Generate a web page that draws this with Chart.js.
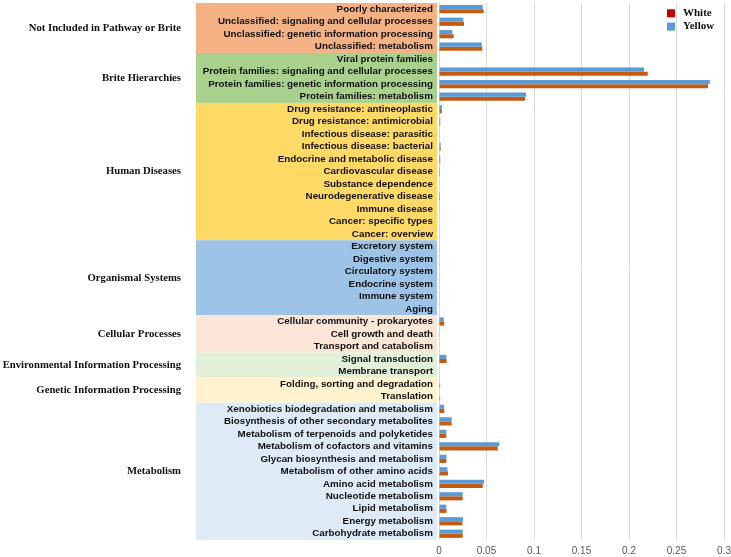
<!DOCTYPE html>
<html lang="en">
<head>
<meta charset="UTF-8">
<script src="https://cdn.jsdelivr.net/npm/chart.js@4"></script>
<title>KEGG pathway classification</title>
<style>
  body { margin: 0; background: #fff; }
  #wrap { width: 731px; height: 557px; position: relative; }
</style>
</head>
<body>
<div id="wrap"><canvas id="myChart"></canvas></div>
<script>
const categories = [
  'Poorly characterized',
  'Unclassified: signaling and cellular processes',
  'Unclassified: genetic information processing',
  'Unclassified: metabolism',
  'Viral protein families',
  'Protein families: signaling and cellular processes',
  'Protein families: genetic information processing',
  'Protein families: metabolism',
  'Drug resistance: antineoplastic',
  'Drug resistance: antimicrobial',
  'Infectious disease: parasitic',
  'Infectious disease: bacterial',
  'Endocrine and metabolic disease',
  'Cardiovascular disease',
  'Substance dependence',
  'Neurodegenerative disease',
  'Immune disease',
  'Cancer: specific types',
  'Cancer: overview',
  'Excretory system',
  'Digestive system',
  'Circulatory system',
  'Endocrine system',
  'Immune system',
  'Aging',
  'Cellular community - prokaryotes',
  'Cell growth and death',
  'Transport and catabolism',
  'Signal transduction',
  'Membrane transport',
  'Folding, sorting and degradation',
  'Translation',
  'Xenobiotics biodegradation and metabolism',
  'Biosynthesis of other secondary metabolites',
  'Metabolism of terpenoids and polyketides',
  'Metabolism of cofactors and vitamins',
  'Glycan biosynthesis and metabolism',
  'Metabolism of other amino acids',
  'Amino acid metabolism',
  'Nucleotide metabolism',
  'Lipid metabolism',
  'Energy metabolism',
  'Carbohydrate metabolism'
];

const yellowValues = [
  0.046, 0.0256, 0.014, 0.045,
  0, 0.2158, 0.285, 0.0916,
  0.003, 0.0013, 0.0006, 0.0018, 0.0013, 0.001, 0, 0.001, 0.0006, 0, 0.0005,
  0, 0.0005, 0, 0.0005, 0, 0,
  0.005, 0.0005, 0.0005,
  0.0077, 0,
  0.0007, 0.0005,
  0.0053, 0.0133, 0.0077, 0.0635, 0.008, 0.0088, 0.0474, 0.0249, 0.0077, 0.0253, 0.0249
];

const whiteValues = [
  0.047, 0.0263, 0.0155, 0.0456,
  0, 0.2197, 0.2832, 0.0905,
  0.003, 0.0013, 0.0006, 0.0018, 0.0013, 0.001, 0, 0.001, 0.0006, 0, 0.0005,
  0, 0.0005, 0, 0.0005, 0, 0,
  0.0055, 0.0005, 0.0005,
  0.008, 0,
  0.0012, 0.0012,
  0.0056, 0.0133, 0.0077, 0.0618, 0.0077, 0.0095, 0.046, 0.0249, 0.008, 0.0246, 0.0249
];

const groupNames = [
  'Not Included in Pathway or Brite',
  'Brite Hierarchies',
  'Human Diseases',
  'Organismal Systems',
  'Cellular Processes',
  'Environmental Information Processing',
  'Genetic Information Processing',
  'Metabolism'
];
const groupSizes = [4, 4, 11, 6, 3, 2, 2, 11];
const groupColors = ['#F4B183', '#A9D18E', '#FFD966', '#9DC3E6', '#FBE5D6', '#E2F0D9', '#FFF2CC', '#DEEBF7'];

const seriesNames = ['Yellow', 'White'];
const barColors = ['#5B9BD5', '#C55A11'];
const legendNames = ['White', 'Yellow'];
const legendColors = ['#C00000', '#5B9BD5'];

const xMin = 0, xMax = 0.3, xStep = 0.05;

// coloured bands + group names on the left
const groupBands = {
  id: 'groupBands',
  beforeDraw(chart) {
    const ctx = chart.ctx;
    const y = chart.scales.y;
    const half = (y.getPixelForValue(1) - y.getPixelForValue(0)) / 2;
    let start = 0;
    ctx.save();
    for (let g = 0; g < groupNames.length; g++) {
      const end = start + groupSizes[g] - 1;
      const top = y.getPixelForValue(start) - half;
      const bottom = y.getPixelForValue(end) + half;
      ctx.fillStyle = groupColors[g];
      ctx.fillRect(196, top, chart.chartArea.left - 2 - 196, bottom - top);
      ctx.fillStyle = '#111';
      ctx.font = 'bold 10.7px "Liberation Serif", "Times New Roman", serif';
      ctx.textAlign = 'right';
      ctx.textBaseline = 'middle';
      ctx.fillText(groupNames[g], 181, (top + bottom) / 2);
      start = end + 1;
    }
    ctx.restore();
  }
};

// legend sits inside the plot, top right
const innerLegend = {
  id: 'innerLegend',
  afterDraw(chart) {
    const ctx = chart.ctx;
    ctx.save();
    ctx.font = 'bold 11px "Liberation Serif", "Times New Roman", serif';
    ctx.textBaseline = 'middle';
    ctx.textAlign = 'left';
    for (let i = 0; i < legendNames.length; i++) {
      const cy = 13.3 + i * 13.3;
      ctx.fillStyle = legendColors[i];
      ctx.fillRect(667, cy - 4, 8, 8);
      ctx.fillStyle = '#111';
      ctx.fillText(legendNames[i], 683, cy);
    }
    ctx.restore();
  }
};

const ctx = document.getElementById('myChart').getContext('2d');

new Chart(ctx, {
  type: 'bar',
  data: {
    labels: categories,
    datasets: [
      {
        label: seriesNames[0],
        data: yellowValues,
        backgroundColor: barColors[0],
        categoryPercentage: 0.66,
        barPercentage: 1.0
      },
      {
        label: seriesNames[1],
        data: whiteValues,
        backgroundColor: barColors[1],
        categoryPercentage: 0.66,
        barPercentage: 1.0
      }
    ]
  },
  options: {
    indexAxis: 'y',
    responsive: true,
    maintainAspectRatio: false,
    animation: false,
    layout: {
      padding: { top: 3, right: 7, left: 0, bottom: -5 }
    },
    plugins: {
      legend: { display: false },
      tooltip: { enabled: false }
    },
    scales: {
      y: {
        type: 'category',
        grid: { display: false, drawTicks: false },
        border: { display: false },
        ticks: {
          autoSkip: false,
          padding: 6,
          color: '#111',
          font: { family: '"Liberation Sans", Arial, sans-serif', size: 9.8, weight: 'bold' }
        },
        afterFit(scale) {
          scale.width = 439;
          scale.paddingTop = 0;
          scale.paddingBottom = 0;
        }
      },
      x: {
        min: xMin,
        max: xMax,
        grid: { color: '#D9D9D9', drawTicks: false },
        border: { display: false },
        ticks: {
          stepSize: xStep,
          padding: 5,
          color: '#595959',
          font: { family: '"Liberation Sans", Arial, sans-serif', size: 10 },
          callback: (v) => String(Number(v.toFixed(2)))
        },
        afterFit(scale) {
          scale.paddingRight = 0;
          scale.paddingLeft = 0;
        }
      }
    }
  },
  plugins: [groupBands, innerLegend]
});
</script>
</body>
</html>
